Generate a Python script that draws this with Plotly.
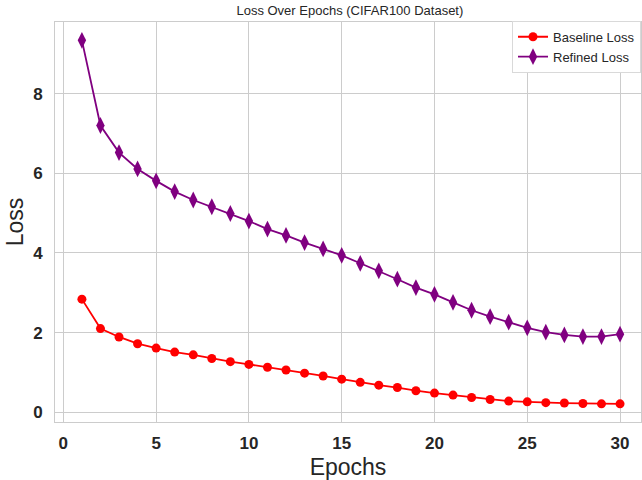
import plotly.graph_objects as go

epochs = list(range(1, 31))
baseline_loss = [2.84, 2.10, 1.89, 1.72, 1.61, 1.51, 1.44, 1.35, 1.27, 1.20,
                 1.13, 1.06, 0.98, 0.91, 0.83, 0.75, 0.68, 0.62, 0.54, 0.48,
                 0.43, 0.37, 0.32, 0.28, 0.26, 0.24, 0.23, 0.22, 0.21, 0.21]
refined_loss = [9.34, 7.20, 6.52, 6.11, 5.81, 5.54, 5.33, 5.16, 4.99, 4.80,
                4.60, 4.44, 4.26, 4.10, 3.94, 3.74, 3.55, 3.34, 3.13, 2.96,
                2.76, 2.56, 2.40, 2.26, 2.12, 2.01, 1.94, 1.90, 1.90, 1.96]
x_ticks = [0, 5, 10, 15, 20, 25, 30]
y_ticks = [0, 2, 4, 6, 8]

FONT = "Liberation Sans, Arial, sans-serif"
TXT = "#262626"
GRID = "#cccccc"

fig = go.Figure()
fig.add_trace(go.Scatter(
    x=epochs, y=baseline_loss, mode="lines+markers", name="Baseline Loss",
    line=dict(color="red", width=1.8),
    marker=dict(symbol="circle", size=9, color="red"),
))
fig.add_trace(go.Scatter(
    x=epochs, y=refined_loss, mode="lines+markers", name="Refined Loss",
    line=dict(color="purple", width=1.8),
    marker=dict(symbol="diamond-tall", size=12, color="purple"),
))

fig.update_layout(
    width=642, height=480,
    paper_bgcolor="white", plot_bgcolor="white",
    margin=dict(l=55, r=1, t=22, b=58),
    font=dict(family=FONT, color=TXT),
    title=dict(text="Loss Over Epochs (CIFAR100 Dataset)", x=0.545, xanchor="center",
               y=0.979, yanchor="middle", font=dict(size=13, color=TXT)),
    showlegend=True,
    legend=dict(x=1.0, xanchor="right", y=1.003, yanchor="top",
                bgcolor="white", bordercolor="#d9d9d9", borderwidth=1,
                font=dict(size=13, color=TXT), tracegroupgap=0, itemwidth=30),
)
fig.update_xaxes(
    range=[-0.45, 31.13], tickmode="array", tickvals=x_ticks,
    ticktext=[f"<b>{v}</b>" for v in x_ticks],
    tickfont=dict(size=17, color=TXT), ticks="", ticklabelstandoff=6,
    showgrid=True, gridcolor=GRID, gridwidth=1, zeroline=False,
    showline=True, linecolor=GRID, linewidth=1, mirror=True,
    title=dict(text="Epochs", font=dict(size=23, color=TXT), standoff=6),
)
fig.update_yaxes(
    range=[-0.246, 9.80], tickmode="array", tickvals=y_ticks,
    ticktext=[f"<b>{v}</b>" for v in y_ticks],
    tickfont=dict(size=17, color=TXT), ticks="", ticklabelstandoff=8,
    showgrid=True, gridcolor=GRID, gridwidth=1, zeroline=False,
    showline=True, linecolor=GRID, linewidth=1, mirror=True,
    title=dict(text="Loss", font=dict(size=23, color=TXT), standoff=3),
)

fig.write_html("out.html", config={"displayModeBar": False},
               post_script="document.body.style.margin='0';document.body.style.overflow='hidden';")
